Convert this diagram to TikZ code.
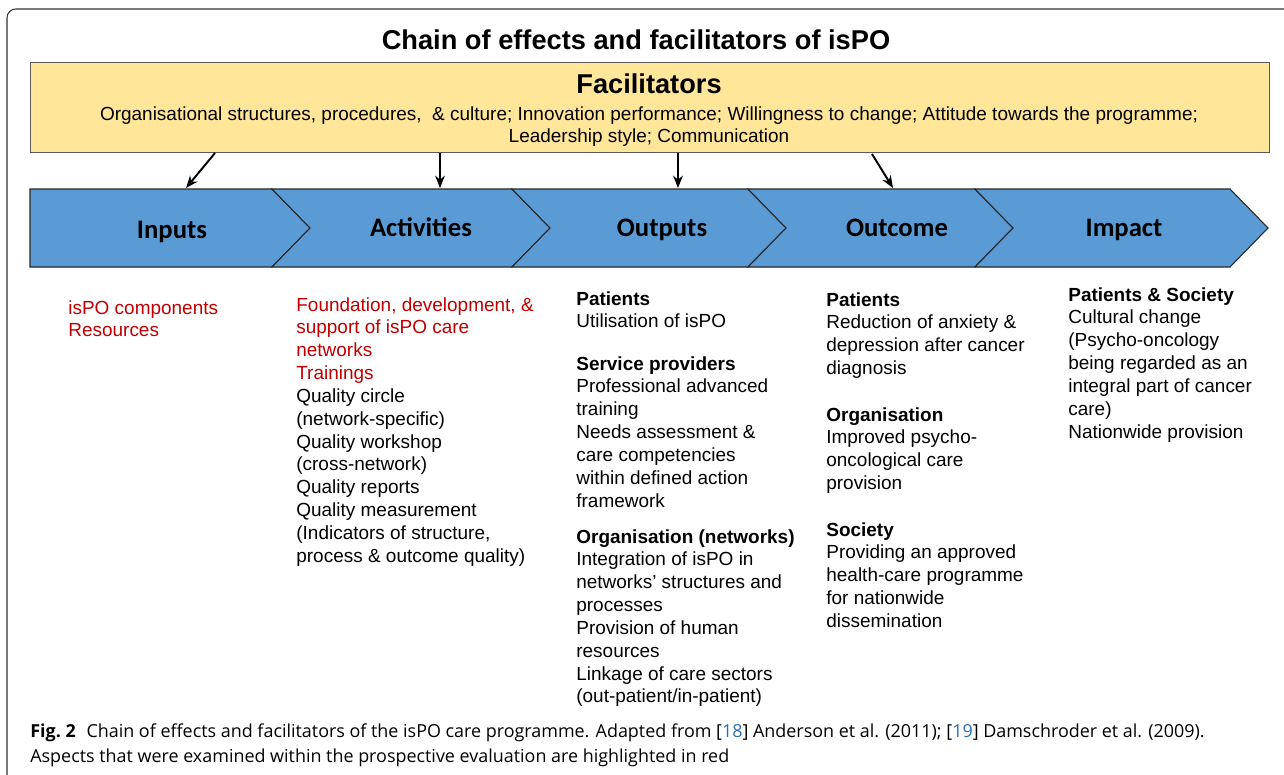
\documentclass[tikz,border=0pt]{standalone}
\usepackage{fontspec}
\setmainfont{Liberation Sans}
\newfontfamily\chevfont{Carlito}
\newfontfamily\capfont{Open Sans}
\usepackage{xcolor}
\usetikzlibrary{positioning,arrows.meta}

\definecolor{facyellow}{RGB}{255,230,153}
\definecolor{chevblue}{RGB}{91,155,213}
\definecolor{evalred}{RGB}{192,0,0}
\definecolor{refblue}{RGB}{40,110,180}

\begin{document}
\begin{tikzpicture}[x=0.02cm,y=-0.02cm,
  every node/.style={inner sep=0pt},
  coltext/.style={anchor=north west,align=left,font=\fontsize{10.8}{13}\selectfont},
  chevlabel/.style={anchor=base,font=\chevfont\bfseries\fontsize{15.2}{18}\selectfont},
  chevron/.style={fill=chevblue,draw=black!85,line width=0.6pt},
  facarrow/.style={-{Stealth[length=7pt,width=5.5pt]},line width=1.1pt},
  captext/.style={anchor=base west,font=\capfont\fontsize{10.2}{14}\selectfont}]
\useasboundingbox (0,0) rectangle (1284,774);
\begin{scope}
\clip (0,0) rectangle (1284,774);
\draw [black!80,line width=0.6pt,rounded corners=5pt] (7,9) rectangle (1300,790);
\end{scope}

\node (title) at (636,40) {\fontsize{15.5}{18}\selectfont\bfseries Chain of effects and facilitators of isPO};

% facilitators
\node [draw=black!65,fill=facyellow,minimum width=24.78cm,minimum height=1.8cm] (fac) at (649.5,107) {};
\node (facttl) at (649,84) {\fontsize{15.5}{18}\selectfont\bfseries Facilitators};
\node [align=center,font=\fontsize{10.8}{12.5}\selectfont] (facitems) at (649,127)
  {Organisational structures, procedures, \ \& culture; Innovation performance; Willingness to change; Attitude towards the programme;\\
   Leadership style; Communication};

% chain of effects
\filldraw [chevron] (30,189) -- (272,189) -- (310,228) -- (272,267) -- (30,267) -- cycle;
\foreach \a/\b in {272/512,512/748,748/975,975/1230}
  \filldraw [chevron] (\a,189) -- (\b,189) -- ({\b+38},228) -- (\b,267) -- (\a,267) -- ({\a+38},228) -- cycle;

\node [chevlabel] (inputs) at (172,238) {Inputs};
\node [chevlabel] (activities) at (421,236) {Activities};
\node [chevlabel] (outputs) at (662,236) {Outputs};
\node [chevlabel] (outcome) at (897,236) {Outcome};
\node [chevlabel] (impact) at (1124,236) {Impact};

\coordinate (f1) at (215,153); \coordinate (c1) at (186,188);
\coordinate (f2) at (440,153); \coordinate (c2) at (440,188);
\coordinate (f3) at (678,153); \coordinate (c3) at (678,188);
\coordinate (f4) at (872,154); \coordinate (c4) at (893,188);
\foreach \i in {1,...,4}
  \draw [facarrow] (f\i) -- (c\i);

% columns
\node [coltext,text=evalred] (inptext) at (68,300) {isPO components\\Resources};

\node [coltext] (acttext) at (296,297) {\textcolor{evalred}{Foundation, development, \&}\\
  \textcolor{evalred}{support of isPO care}\\
  \textcolor{evalred}{networks}\\
  \textcolor{evalred}{Trainings}\\
  Quality circle\\
  (network-specific)\\
  Quality workshop\\
  (cross-network)\\
  Quality reports\\
  Quality measurement\\
  (Indicators of structure,\\
  process \& outcome quality)};

\node [coltext] (outpat) at (576,291) {\textbf{Patients}\\Utilisation of isPO};
\node [coltext] (outserv) at (576,356) {\textbf{Service providers}\\
  Professional advanced\\
  training\\
  Needs assessment \&\\
  care competencies\\
  within defined action\\
  framework};
\node [coltext] (outorg) at (576,529) {\textbf{Organisation (networks)}\\
  Integration of isPO in\\
  networks' structures and\\
  processes\\
  Provision of human\\
  resources\\
  Linkage of care sectors\\
  (out-patient/in-patient)};

\node [coltext] (ocpat) at (826,292) {\textbf{Patients}\\
  Reduction of anxiety \&\\
  depression after cancer\\
  diagnosis};
\node [coltext] (ocorg) at (826,407) {\textbf{Organisation}\\
  Improved psycho-\\
  oncological care\\
  provision};
\node [coltext] (ocsoc) at (826,522) {\textbf{Society}\\
  Providing an approved\\
  health-care programme\\
  for nationwide\\
  dissemination};

\node [coltext] (imptext) at (1068,287) {\textbf{Patients \& Society}\\
  Cultural change\\
  (Psycho-oncology\\
  being regarded as an\\
  integral part of cancer\\
  care)\\
  Nationwide provision};

% caption
\node [captext] (cap1) at (30,737)
  {\textbf{Fig.~2}\hspace{0.6em}Chain of effects and facilitators of the isPO care programme. Adapted from [\textcolor{refblue}{18}] Anderson et al. (2011); [\textcolor{refblue}{19}] Damschroder et al. (2009).};
\node [captext] (cap2) at (30,762)
  {Aspects that were examined within the prospective evaluation are highlighted in red};
\end{tikzpicture}
\end{document}
